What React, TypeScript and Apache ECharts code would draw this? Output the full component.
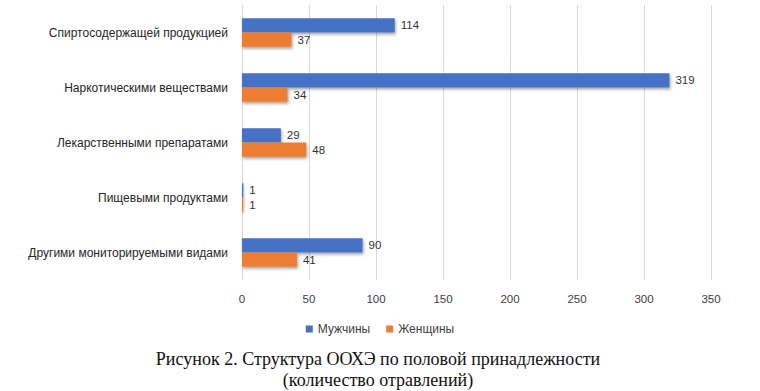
import React, { useEffect, useRef } from "react";
import * as echarts from "echarts";

const categories = [
  "Спиртосодержащей продукцией",
  "Наркотическими веществами",
  "Лекарственными препаратами",
  "Пищевыми продуктами",
  "Другими мониторируемыми видами",
];
const men = [114, 319, 29, 1, 90];
const women = [37, 34, 48, 1, 41];
const seriesNames = ["Мужчины", "Женщины"];
const captionLines = [
  "Рисунок 2. Структура ООХЭ по половой принадлежности",
  "(количество отравлений)",
];

const FONT = "'Liberation Sans', Arial, sans-serif";

export default function App() {
  const ref = useRef<HTMLDivElement>(null);
  useEffect(() => {
    document.body.style.margin = "0";
    const chart = echarts.init(ref.current!, null, { renderer: "svg" });
    const barStyle = (color: string) => ({
      color,
      shadowBlur: 3,
      shadowColor: "rgba(0,0,0,0.35)",
      shadowOffsetX: 1,
      shadowOffsetY: 2,
    });
    const label = {
      show: true,
      position: "right" as const,
      distance: 6,
      fontSize: 11.5,
      color: "#333333",
      fontFamily: FONT,
    };
    chart.setOption({
      animation: false,
      backgroundColor: "#ffffff",
      textStyle: { fontFamily: FONT },
      grid: { left: 242, right: 49, top: 5, height: 275 },
      xAxis: {
        type: "value",
        min: 0,
        max: 350,
        interval: 50,
        axisLine: { show: false },
        axisTick: { show: false },
        splitLine: { lineStyle: { color: "#d9d9d9", width: 1 } },
        axisLabel: { color: "#404040", fontSize: 11.5, margin: 13, fontFamily: FONT },
      },
      yAxis: {
        type: "category",
        data: categories,
        inverse: true,
        axisLine: { show: false },
        axisTick: { show: false },
        axisLabel: { color: "#262626", fontSize: 12, margin: 14, fontFamily: FONT },
      },
      legend: {
        data: seriesNames,
        left: "center",
        top: 318,
        itemWidth: 7,
        itemHeight: 7,
        itemGap: 16,
        icon: "rect",
        textStyle: { color: "#404040", fontSize: 12, fontFamily: FONT },
      },
      title: {
        text: captionLines.join("\n"),
        left: 373,
        top: 343,
        textAlign: "center",
        textStyle: {
          fontFamily: "'Liberation Serif', 'Times New Roman', serif",
          fontSize: 18,
          fontWeight: "normal",
          color: "#111111",
          lineHeight: 21,
          align: "center",
        },
      },
      series: [
        {
          name: seriesNames[0],
          type: "bar",
          data: men,
          barGap: "0%",
          barCategoryGap: "48%",
          itemStyle: barStyle("#4472c4"),
          label,
        },
        {
          name: seriesNames[1],
          type: "bar",
          data: women,
          barGap: "0%",
          barCategoryGap: "48%",
          itemStyle: barStyle("#ed7d31"),
          label,
        },
      ],
    });
    return () => chart.dispose();
  }, []);
  return <div ref={ref} style={{ width: 760, height: 391 }} />;
}
